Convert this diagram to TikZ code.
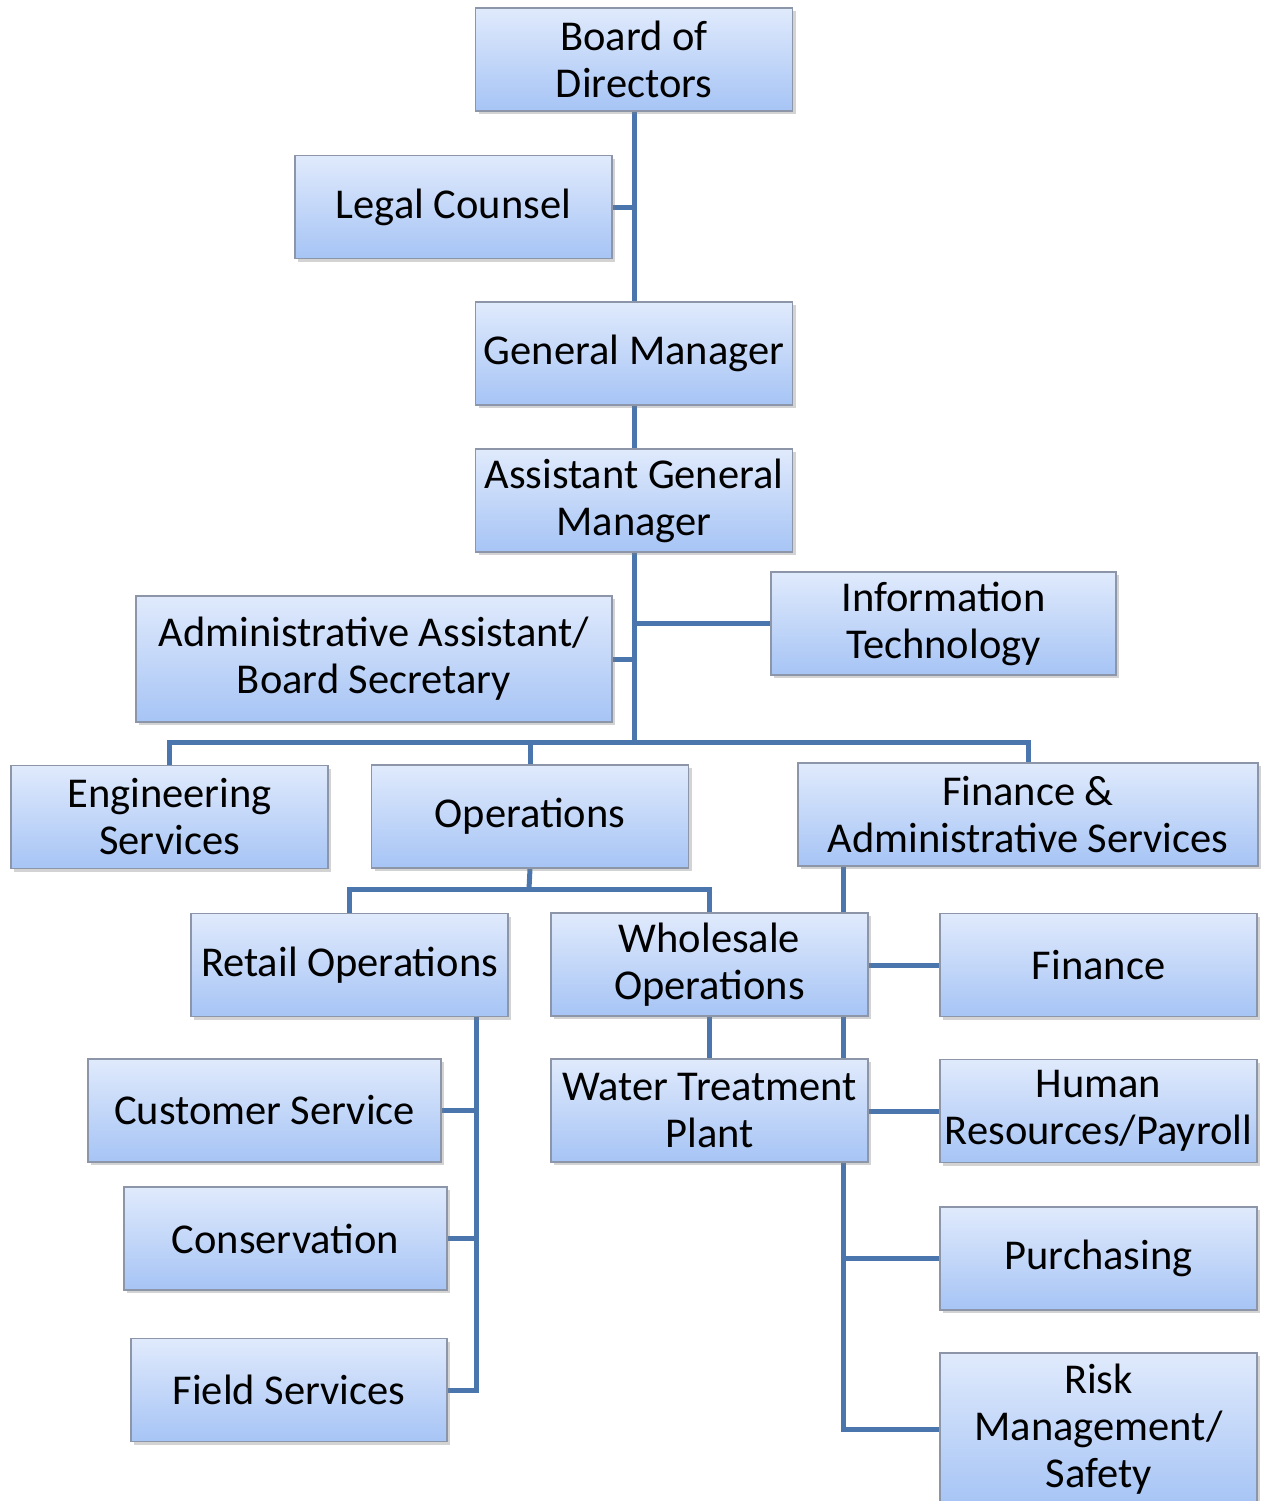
\documentclass[tikz,border=0pt]{standalone}
\usepackage{fontspec}
\setmainfont{Carlito}
\usetikzlibrary{positioning, shadows, backgrounds}

\definecolor{boxtop}{HTML}{E0EAFC}
\definecolor{boxbot}{HTML}{A6C4F5}
\definecolor{boxline}{HTML}{8C96A8}
\definecolor{linkblue}{HTML}{4A76AD}

\tikzset{
  unit/.style={rectangle, draw=boxline, line width=1.2pt, top color=boxtop, bottom color=boxbot,
               minimum width=317pt, minimum height=103pt, inner sep=0pt, align=center,
               font=\fontsize{42.5}{47}\selectfont,
               drop shadow={shadow xshift=3pt, shadow yshift=-3pt, opacity=0.35}},
  link/.style={draw=linkblue, line width=5pt}
}

\begin{document}
\begin{tikzpicture}[x=1pt, y=-1pt]
   \useasboundingbox (0,0) rectangle (1263,1501);

   % Nodes
      \node[unit]                        (board)   at (634,59.5)    {Board of\\Directors};
      \node[unit]                        (legal)   at (453.5,207)   {Legal Counsel};
      \node[unit]                        (gm)      at (634,353.5)   {General Manager};
      \node[unit]                        (agm)     at (634,500.5)   {Assistant General\\Manager};
      \node[unit, minimum width=345pt]   (it)      at (943.5,623.5) {Information\\Technology};
      \node[unit, minimum width=476pt,
            minimum height=126pt]        (admin)   at (374,659)     {Administrative Assistant/\\Board Secretary};
      \node[unit]                        (eng)     at (169.5,817)   {Engineering\\Services};
      \node[unit]                        (ops)     at (530,816.5)   {Operations};
      \node[unit, minimum width=460pt]   (fas)     at (1028,814.5)  {Finance \&\\Administrative Services};
      \node[unit]                        (retail)  at (349.5,965)   {Retail Operations};
      \node[unit]                        (whole)   at (709.5,964.5) {Wholesale\\Operations};
      \node[unit]                        (finance) at (1098.5,965)  {Finance};
      \node[unit, minimum width=353pt]   (cs)      at (264.5,1110.5){Customer Service};
      \node[unit]                        (wtp)     at (709.5,1110.5){Water Treatment\\Plant};
      \node[unit]                        (hr)      at (1098.5,1111) {Human\\Resources/Payroll};
      \node[unit, minimum width=323pt]   (cons)    at (285.5,1238.5){Conservation};
      \node[unit]                        (purch)   at (1098.5,1258.5){Purchasing};
      \node[unit, minimum width=316pt]   (field)   at (289,1390)    {Field Services};
      \node[unit, minimum height=152pt]  (risk)    at (1098.5,1429) {Risk\\Management/\\Safety};

   % Junctions
      \coordinate (busA)   at (634,742);
      \coordinate (busB)   at (529,889);
      \coordinate (retailx) at (476,1017);
      \coordinate (fasx)   at (843,866);

   % Paths
   \begin{scope}[on background layer]
      \path[link] (board.south) -- (gm.north);
      \path[link] (legal.east) -- (legal.east -| board.south);
      \path[link] (gm.south) -- (agm.north);
      \path[link] (agm.south) -- (busA);
      \path[link] (it.west) -- (it.west -| busA);
      \path[link] (admin.east) -- (admin.east -| busA);
      \path[link] (eng.north) |- (busA) -| (fas.north);
      \path[link] (ops.north) -- (ops.north |- busA);
      \path[link] (ops.south) -- (busB);
      \path[link] (retail.north) |- (busB) -| (whole.north);
      \path[link] (retailx) |- (field.east);
      \path[link] (cs.east) -- (cs.east -| retailx);
      \path[link] (cons.east) -- (cons.east -| retailx);
      \path[link] (whole.south) -- (wtp.north);
      \path[link] (fasx) |- (risk.west -| fasx) -- (risk.west);
      \path[link] (finance.west) -- (finance.west -| fasx);
      \path[link] (hr.west) -- (hr.west -| fasx);
      \path[link] (purch.west) -- (purch.west -| fasx);
   \end{scope}
\end{tikzpicture}
\end{document}
